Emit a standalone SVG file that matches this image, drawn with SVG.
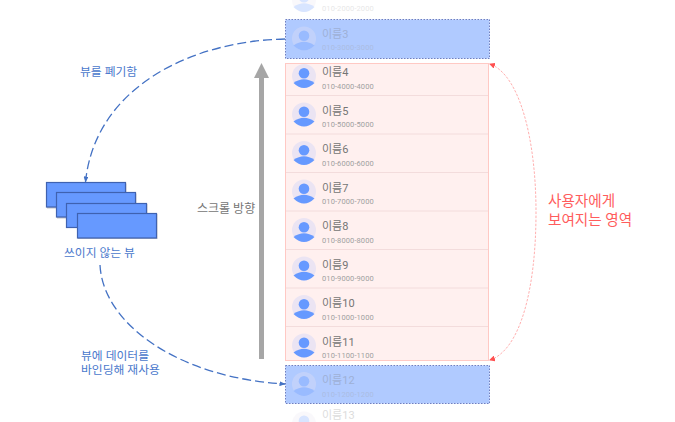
<svg xmlns="http://www.w3.org/2000/svg" width="675" height="422" viewBox="0 0 675 422">
<style>
text{font-family:Roboto,"Noto Sans CJK KR","Noto Sans",sans-serif}
.nm{font-size:11px;fill:#757575}
.ph{font-size:7.5px;fill:#a0a0a0;letter-spacing:.1px}
.lb{font-size:11.800px;fill:#4a78cc}
.sep{stroke:#f3dcdc;stroke-width:1}
.view{fill:#6699ff;stroke:#3f62b0;stroke-width:1.200}
.shadow{fill:#c4c4c8}
.blue{fill:none;stroke:#4472c4;stroke-width:1.300;stroke-dasharray:9 4}
.red{fill:none;stroke:#ff9a9a;stroke-width:.800;stroke-dasharray:2.500 1.500}
.bd{fill:#6699ff}.hl{fill:#ebe4f3}
</style>
<defs>
<marker id="ab" markerWidth="6" markerHeight="5" refX="5.500" refY="2.500" orient="auto" markerUnits="userSpaceOnUse"><path d="M0 0L6 2.500L0 5Z" fill="#4472c4"/></marker>
<marker id="ar" markerWidth="6" markerHeight="6" refX="5" refY="3" orient="auto-start-reverse" markerUnits="userSpaceOnUse"><path d="M0 0L6 3L0 6Z" fill="#ff5050"/></marker>
<g id="av"><circle r="12" class="hl"/><circle cy="-2.800" r="5.300" class="bd"/><path d="M-10.500 7Q0 -0.500 10.500 7Q0 17 -10.500 7Z" class="bd"/></g>
</defs>

<g id="row2" opacity=".25"><use href="#av" x="304" y="0"/><text x="322" y="11" class="ph">010-2000-2000</text></g>

<g id="row3">
<rect x="285.500" y="19.500" width="204" height="39" fill="#b0caff" stroke="#6f7fc0" stroke-width="1" stroke-dasharray="1.500 1.500"/>
<g opacity=".3"><use href="#av" x="304" y="38.500"/><text x="322" y="38" class="nm">이름3</text><text x="322" y="50" class="ph">010-3000-3000</text></g>
</g>

<g id="visible">
<rect x="285.500" y="63.500" width="203" height="297" fill="#fff0ef" stroke="#ffc9c4" stroke-width="1"/>
<line class="sep" x1="286" x2="488" y1="95.500" y2="95.500"/>
<line class="sep" x1="286" x2="488" y1="134" y2="134"/>
<line class="sep" x1="286" x2="488" y1="172.500" y2="172.500"/>
<line class="sep" x1="286" x2="488" y1="211" y2="211"/>
<line class="sep" x1="286" x2="488" y1="249.500" y2="249.500"/>
<line class="sep" x1="286" x2="488" y1="288" y2="288"/>
<line class="sep" x1="286" x2="488" y1="326.500" y2="326.500"/>
</g>
<g id="row4"><use href="#av" x="304" y="76"/><text x="322" y="76" class="nm">이름4</text><text x="322" y="88.500" class="ph">010-4000-4000</text></g>
<g id="row5"><use href="#av" x="304" y="114.500"/><text x="322" y="114.500" class="nm">이름5</text><text x="322" y="127" class="ph">010-5000-5000</text></g>
<g id="row6"><use href="#av" x="304" y="153"/><text x="322" y="153" class="nm">이름6</text><text x="322" y="165.500" class="ph">010-6000-6000</text></g>
<g id="row7"><use href="#av" x="304" y="191.500"/><text x="322" y="191.500" class="nm">이름7</text><text x="322" y="204" class="ph">010-7000-7000</text></g>
<g id="row8"><use href="#av" x="304" y="230"/><text x="322" y="230" class="nm">이름8</text><text x="322" y="242.500" class="ph">010-8000-8000</text></g>
<g id="row9"><use href="#av" x="304" y="268.500"/><text x="322" y="268.500" class="nm">이름9</text><text x="322" y="281" class="ph">010-9000-9000</text></g>
<g id="row10"><use href="#av" x="304" y="307"/><text x="322" y="307" class="nm">이름10</text><text x="322" y="319.500" class="ph">010-1000-1000</text></g>
<g id="row11"><use href="#av" x="304" y="345.500"/><text x="322" y="345.500" class="nm">이름11</text><text x="322" y="358" class="ph">010-1100-1100</text></g>

<g id="row12">
<rect x="285.500" y="365.500" width="204" height="38" fill="#b0caff" stroke="#6f7fc0" stroke-width="1" stroke-dasharray="1.500 1.500"/>
<g opacity=".3"><use href="#av" x="304" y="384"/><text x="322" y="384" class="nm">이름12</text><text x="322" y="396.500" class="ph">010-1200-1200</text></g>
</g>
<g id="row13" opacity=".25"><use href="#av" x="304" y="423.500"/><text x="322" y="419" class="nm">이름13</text></g>

<g id="views">
<rect class="shadow" x="47" y="183.500" width="79.500" height="25"/>
<rect class="view" x="46.500" y="182.500" width="79" height="24.500"/>
<rect class="shadow" x="57" y="193.500" width="79.500" height="25"/>
<rect class="view" x="56.500" y="192.500" width="79" height="24.500"/>
<rect class="shadow" x="67" y="204" width="80.500" height="24"/>
<rect class="view" x="66.500" y="203.500" width="80" height="24"/>
<rect class="shadow" x="78" y="214" width="79.500" height="25"/>
<rect class="view" x="77.500" y="213.500" width="79" height="24.500"/>
</g>
<g id="connectors">
<path class="blue" marker-end="url(#ab)" d="M285 39C190 41 95 88 85.500 182"/>
<path class="blue" marker-end="url(#ab)" d="M100 265C103 325 180 378 285 384"/>
<path class="red" marker-start="url(#ar)" marker-end="url(#ar)" d="M490 360C520 350 536 290 536 212C536 140 520 75 490 64"/>
<path d="M259 359V77H264V359Z" fill="#a6a6a6"/>
<path d="M254 78L261.500 63L269 78Z" fill="#a6a6a6"/>
</g>
<g id="labels">
<text x="80" y="76" class="lb">뷰를 폐기함</text>
<text x="64" y="257" class="lb">쓰이지 않는 뷰</text>
<text x="81" y="359.500" class="lb">뷰에 데이터를</text>
<text x="81" y="374" class="lb">바인딩해 재사용</text>
<text x="197" y="212.500" font-size="12" fill="#757575">스크롤 방향</text>
<text x="548" y="205.500" font-size="14.600" fill="#ff5c5c">사용자에게</text>
<text x="548" y="224.500" font-size="14.600" fill="#ff5c5c">보여지는 영역</text>
</g>
</svg>
